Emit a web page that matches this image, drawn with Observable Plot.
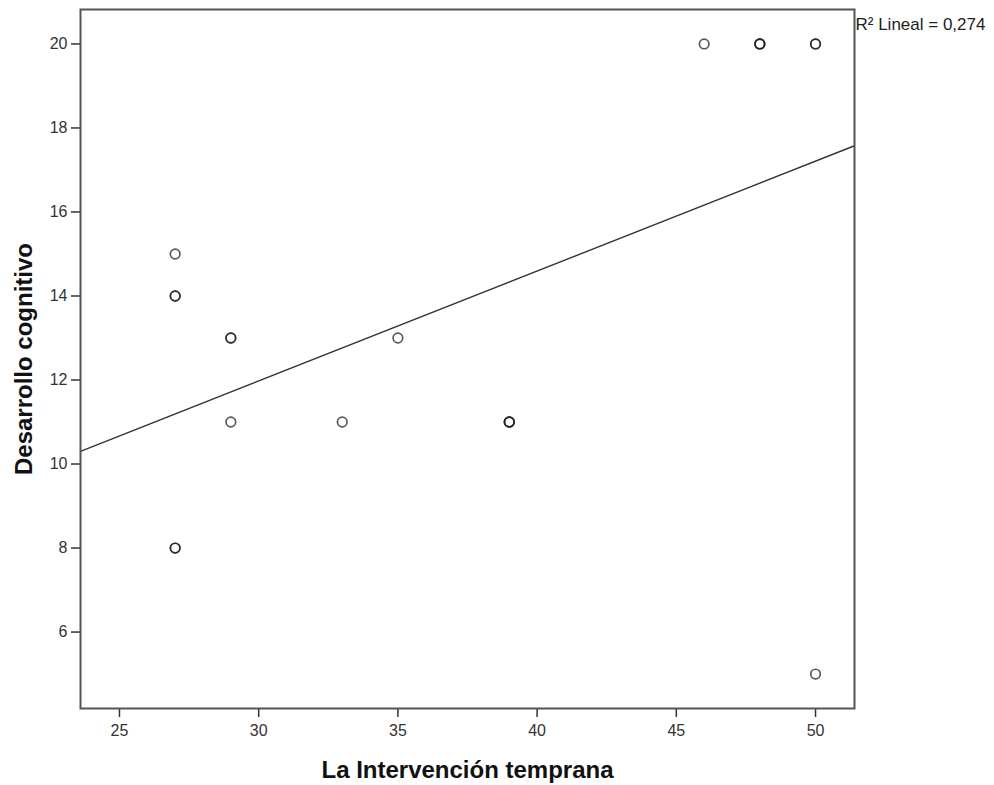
<!DOCTYPE html>
<html>
<head>
<meta charset="utf-8">
<script src="https://cdn.jsdelivr.net/npm/d3@7"></script>
<script src="https://cdn.jsdelivr.net/npm/@observablehq/plot@0.6"></script>
<style>
  body { margin: 0; background: #fff; }
</style>
</head>
<body>
<div id="chart"></div>
<script>
// One entry per observation (repeated values overlap on the plot)
const intervencion = [27, 27, 27, 29, 29, 35, 29, 33, 39, 39, 39, 27, 27, 46, 48, 48, 48, 50, 50, 50];
const desarrollo   = [15, 14, 14, 13, 13, 13, 11, 11, 11, 11, 11,  8,  8, 20, 20, 20, 20, 20, 20,  5];

const xTicks = [25, 30, 35, 40, 45, 50];
const yTicks = [6, 8, 10, 12, 14, 16, 18, 20];
const xLabel = "La Intervención temprana";
const yLabel = "Desarrollo cognitivo";

const xDomain = [23.6, 51.4];
const yDomain = [4.18, 20.82];

const data = intervencion.map((x, i) => ({x, y: desarrollo[i]}));

// Ordinary least squares fit and its R²
const mx = d3.mean(intervencion), my = d3.mean(desarrollo);
let sxy = 0, sxx = 0, syy = 0;
for (const d of data) {
  sxy += (d.x - mx) * (d.y - my);
  sxx += (d.x - mx) ** 2;
  syy += (d.y - my) ** 2;
}
const slope = sxy / sxx;
const intercept = my - slope * mx;
const r2 = (sxy * sxy) / (sxx * syy);
const fitLine = xDomain.map(x => ({x, y: intercept + slope * x}));
const r2Label = `R² Lineal = ${r2.toFixed(3).replace(".", ",")}`;

const chart = Plot.plot({
  width: 994,
  height: 785,
  marginLeft: 80,
  marginRight: 140,
  marginTop: 9,
  marginBottom: 77,
  style: {background: "#fff", fontFamily: "'Liberation Sans', Arial, sans-serif", fontSize: "16px", color: "#333"},
  x: {domain: xDomain},
  y: {domain: yDomain},
  marks: [
    Plot.axisX({ticks: xTicks, tickSize: 9, tickPadding: 7, fontSize: 16, label: null, stroke: "#333", strokeWidth: 1.5}),
    Plot.axisY({ticks: yTicks, tickSize: 9, tickPadding: 4, fontSize: 16, label: null, stroke: "#333", strokeWidth: 1.5}),
    Plot.line(fitLine, {x: "x", y: "y", stroke: "#333", strokeWidth: 1.4}),
    Plot.dot(data, {x: "x", y: "y", r: 4.8, fill: "none", stroke: "#222", strokeWidth: 1.7, strokeOpacity: 0.75}),
    Plot.frame({stroke: "#555", strokeWidth: 2}),
    Plot.text([xLabel], {text: d => d, frameAnchor: "bottom", dy: 62, textAnchor: "middle", lineAnchor: "middle",
      fontSize: 24, fontWeight: "bold", fill: "#111"}),
    Plot.text([yLabel], {text: d => d, frameAnchor: "left", dx: -56, rotate: -90, textAnchor: "middle", lineAnchor: "middle",
      fontSize: 24, fontWeight: "bold", fill: "#111"}),
    Plot.text([r2Label], {text: d => d, frameAnchor: "top-right", textAnchor: "start", dx: 1, dy: 15,
      lineAnchor: "middle", fontSize: 17, fill: "#222"})
  ]
});
document.getElementById("chart").append(chart);
</script>
</body>
</html>
